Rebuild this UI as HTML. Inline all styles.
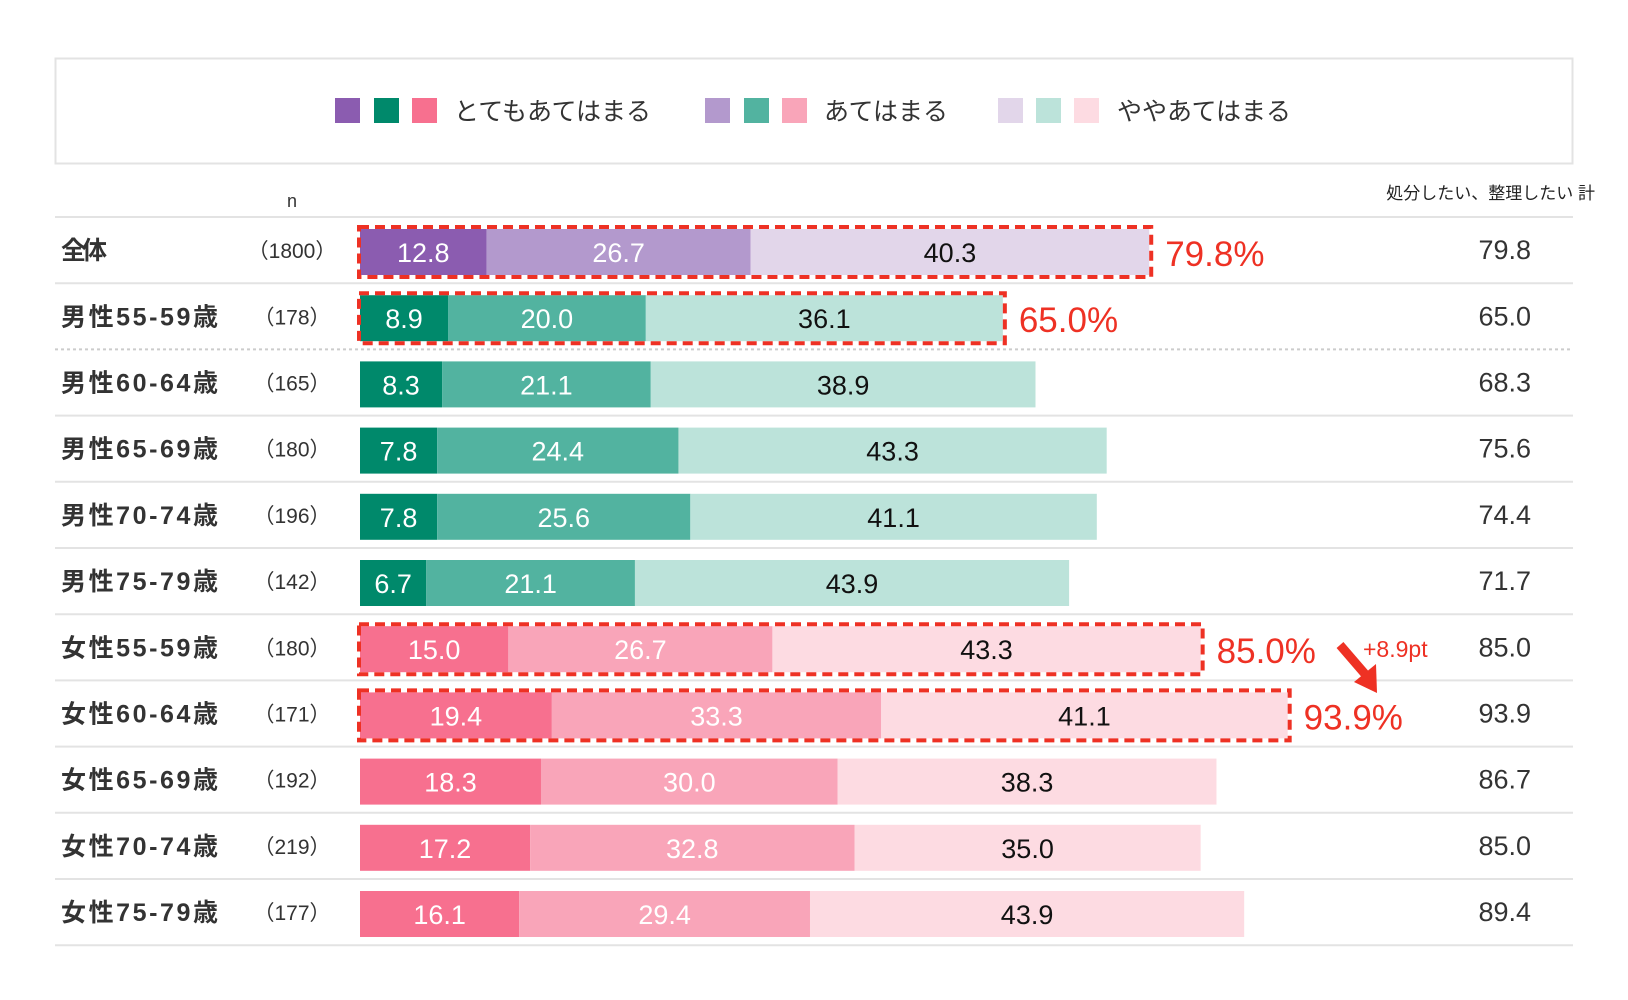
<!DOCTYPE html>
<html><head><meta charset="utf-8"><style>
html,body{margin:0;padding:0;background:#fff;}
svg{display:block;font-family:"Liberation Sans","Noto Sans CJK JP",sans-serif;}
</style></head><body>
<svg width="1628" height="1000" viewBox="0 0 1628 1000" xmlns="http://www.w3.org/2000/svg">
<rect x="55.5" y="58.5" width="1517" height="105" fill="#fff" stroke="#e3e3e3" stroke-width="2"/>
<g>
<rect x="335" y="98" width="25" height="25" fill="#8b5cb0"/><rect x="374" y="98" width="25" height="25" fill="#00896b"/><rect x="412" y="98" width="25" height="25" fill="#f7708f"/>
<text x="454" y="120" font-size="25" fill="#333">とてもあてはまる</text>
<rect x="705" y="98" width="25" height="25" fill="#b399cd"/><rect x="744" y="98" width="25" height="25" fill="#52b3a0"/><rect x="782" y="98" width="25" height="25" fill="#f9a5b9"/>
<text x="824" y="120" font-size="25" fill="#333">あてはまる</text>
<rect x="998" y="98" width="25" height="25" fill="#e2d6ea"/><rect x="1036" y="98" width="25" height="25" fill="#bce3da"/><rect x="1074" y="98" width="25" height="25" fill="#fddbe2"/>
<text x="1117" y="120" font-size="25" fill="#333">ややあてはまる</text>
</g>
<text x="292" y="207" font-size="18" fill="#333" text-anchor="middle">n</text>
<text x="1595" y="199" font-size="17" fill="#222" text-anchor="end">処分したい、整理したい 計</text>
<g id="rows"></g>
</svg>
<script>
var data=[["全体","(1800)",12.8,26.7,40.3,"79.8",0,1],["男性55-59歳","(178)",8.9,20.0,36.1,"65.0",1,1],["男性60-64歳","(165)",8.3,21.1,38.9,"68.3",1,0],["男性65-69歳","(180)",7.8,24.4,43.3,"75.6",1,0],["男性70-74歳","(196)",7.8,25.6,41.1,"74.4",1,0],["男性75-79歳","(142)",6.7,21.1,43.9,"71.7",1,0],["女性55-59歳","(180)",15.0,26.7,43.3,"85.0",2,1],["女性60-64歳","(171)",19.4,33.3,41.1,"93.9",2,1],["女性65-69歳","(192)",18.3,30.0,38.3,"86.7",2,0],["女性70-74歳","(219)",17.2,32.8,35.0,"85.0",2,0],["女性75-79歳","(177)",16.1,29.4,43.9,"89.4",2,0]];
var cols=[["#8b5cb0","#b399cd","#e2d6ea"],["#00896b","#52b3a0","#bce3da"],["#f7708f","#f9a5b9","#fddbe2"]];
var s="",X0=360,S=9.89,H=66.2;
s+='<line x1="55" y1="217" x2="1573" y2="217" stroke="#e3e3e3" stroke-width="2"/>';
data.forEach(function(d,i){
 var top=217+i*H, ly=top+H, by=top+12, cy=top+H/2+9;
 var dash=(i==1)?' stroke-dasharray="3,3" stroke="#ccc"':' stroke="#e3e3e3"';
 s+='<line x1="55" y1="'+ly+'" x2="1573" y2="'+ly+'" stroke-width="2"'+dash+'/>';
 s+='<text x="61" y="'+cy+'" font-size="25" fill="#333" font-weight="bold" textLength="'+(d[0].length>2?157:46)+'">'+d[0]+'</text>';
 s+='<text x="292" y="'+(cy-1)+'" font-size="21" fill="#333" text-anchor="middle">（'+d[1].slice(1,-1)+'）</text>';
 var x=X0;
 for(var k=0;k<3;k++){var w=d[2+k]*S;
  s+='<rect x="'+x+'" y="'+by+'" width="'+w+'" height="46" fill="'+cols[d[6]][k]+'"/>';
  s+='<text x="'+(x+w/2)+'" y="'+(by+33)+'" font-size="27" text-anchor="middle" fill="'+(k<2?'#fff':'#111')+'">'+d[2+k].toFixed(1)+'</text>';
  x+=w;}
 if(d[7]){ s+='<rect x="'+(X0-1)+'" y="'+(by-2)+'" width="'+(x-X0+3)+'" height="50" fill="none" stroke="#ee3124" stroke-width="4" stroke-dasharray="10,6"/>';
  s+='<text x="'+(x+16)+'" y="'+(by+37)+'" font-size="35" fill="#ee3124">'+d[5]+'%</text>';}
 s+='<text x="1531" y="'+cy+'" font-size="27" fill="#333" text-anchor="end">'+d[5]+'</text>';
});
s+='<line x1="1340" y1="645" x2="1365" y2="674" stroke="#ee3124" stroke-width="9"/>';
s+='<polygon points="1354,682 1376,664 1377,693" fill="#ee3124"/>';
s+='<text x="1363" y="657" font-size="23" fill="#ee3124">+8.9pt</text>';
document.getElementById("rows").outerHTML=s;
</script>
</body></html>
